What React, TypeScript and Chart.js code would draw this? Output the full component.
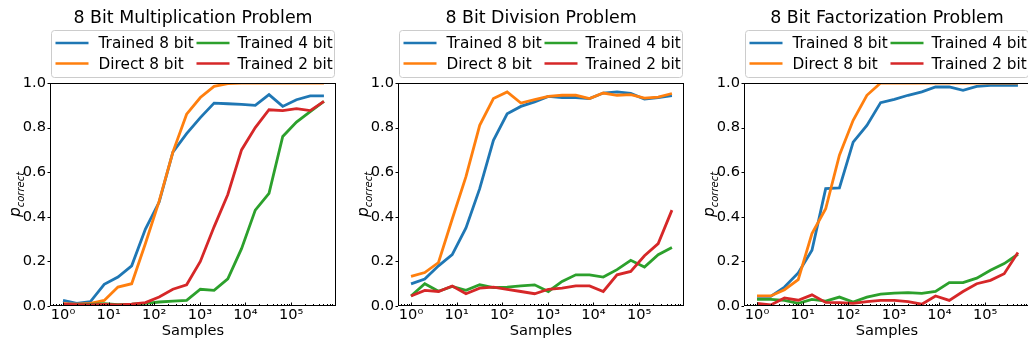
import React, { useEffect, useRef } from "react";
import { Chart, registerables } from "chart.js";

Chart.register(...registerables);

const FONT = '"DejaVu Sans", "Liberation Sans", sans-serif';

// ---- data ----
const samples = [1, 2, 4, 8, 16, 32, 64, 128, 256, 512, 1024, 2048, 4096, 8192, 16384, 32768, 65536, 131072, 262144, 524288];

const seriesLabels = ["Trained 8 bit", "Direct 8 bit", "Trained 4 bit", "Trained 2 bit"];
const seriesColors = ["#1f77b4", "#ff7f0e", "#2ca02c", "#d62728"];
const panelTitles = ["8 Bit Multiplication Problem", "8 Bit Division Problem", "8 Bit Factorization Problem"];

const xMajorTicks = [1, 10, 100, 1000, 10000, 100000];
const xTickLabels = ["10\u2070", "10\u00b9", "10\u00b2", "10\u00b3", "10\u2074", "10\u2075"];
const yTicks = [0, 0.2, 0.4, 0.6, 0.8, 1.0];
const yTickLabels = ["0.0", "0.2", "0.4", "0.6", "0.8", "1.0"];
const xAxisTitle = "Samples";
const yAxisBase = "p";
const yAxisSub = "correct";

const mulTrained8 = [0.025, 0.012, 0.02, 0.097, 0.13, 0.18, 0.345, 0.466, 0.69, 0.773, 0.845, 0.91, 0.907, 0.904, 0.9, 0.948, 0.895, 0.925, 0.942, 0.942];
const mulDirect8 = [0.01, 0.008, 0.012, 0.025, 0.085, 0.1, 0.28, 0.47, 0.69, 0.86, 0.935, 0.985, 0.997, 1, 1, 1, 1, 1, 1, 1];
const mulTrained4 = [0.004, 0.005, 0.007, 0.01, 0.006, 0.008, 0.012, 0.018, 0.022, 0.025, 0.075, 0.07, 0.122, 0.257, 0.43, 0.505, 0.76, 0.825, 0.872, 0.918];
const mulTrained2 = [0.008, 0.006, 0.005, 0.007, 0.005, 0.008, 0.015, 0.04, 0.075, 0.095, 0.2, 0.355, 0.5, 0.7, 0.8, 0.88, 0.876, 0.885, 0.876, 0.918];

const divTrained8 = [0.099, 0.121, 0.18, 0.23, 0.35, 0.526, 0.743, 0.862, 0.895, 0.915, 0.94, 0.935, 0.935, 0.93, 0.955, 0.96, 0.953, 0.928, 0.935, 0.943];
const divDirect8 = [0.133, 0.15, 0.195, 0.39, 0.58, 0.81, 0.93, 0.96, 0.91, 0.925, 0.94, 0.945, 0.945, 0.93, 0.955, 0.945, 0.948, 0.932, 0.937, 0.953];
const divTrained4 = [0.045, 0.1, 0.066, 0.088, 0.07, 0.095, 0.082, 0.085, 0.09, 0.095, 0.065, 0.11, 0.14, 0.14, 0.13, 0.163, 0.205, 0.175, 0.23, 0.262];
const divTrained2 = [0.045, 0.07, 0.065, 0.09, 0.055, 0.08, 0.085, 0.075, 0.065, 0.055, 0.075, 0.08, 0.09, 0.09, 0.065, 0.14, 0.155, 0.225, 0.28, 0.43];

const facTrained8 = [0.043, 0.043, 0.085, 0.148, 0.25, 0.526, 0.53, 0.735, 0.81, 0.912, 0.927, 0.945, 0.96, 0.982, 0.982, 0.967, 0.985, 0.99, 0.99, 0.99];
const facDirect8 = [0.045, 0.045, 0.073, 0.118, 0.325, 0.436, 0.676, 0.833, 0.945, 1, 1, 1, 1, 1, 1, 1, 1, 1, 1, 1];
const facTrained4 = [0.03, 0.03, 0.025, 0.012, 0.03, 0.022, 0.04, 0.018, 0.04, 0.053, 0.058, 0.06, 0.057, 0.065, 0.105, 0.105, 0.125, 0.16, 0.19, 0.232];
const facTrained2 = [0.012, 0.005, 0.036, 0.026, 0.05, 0.016, 0.015, 0.012, 0.02, 0.025, 0.025, 0.02, 0.008, 0.045, 0.025, 0.065, 0.1, 0.115, 0.145, 0.24];

const panelSeries = [
  [mulTrained8, mulDirect8, mulTrained4, mulTrained2],
  [divTrained8, divDirect8, divTrained4, divTrained2],
  [facTrained8, facDirect8, facTrained4, facTrained2],
];

// ---- layout (not data) ----
const H = 343;
const panelLayout = [
  { canvasLeft: 0, canvasWidth: 343, plotLeft: 50, plotRight: 336 },
  { canvasLeft: 343, canvasWidth: 343, plotLeft: 55, plotRight: 341 },
  { canvasLeft: 686, canvasWidth: 344, plotLeft: 58, plotRight: 344 },
];
const PLOT_TOP = 83;
const PLOT_BOTTOM = 306;
const X_MIN = 0.518;
const X_MAX = 964000;

const TICK_FONT = 14.6;
const LEGEND_FONT = 15.3;
const TITLE_FONT = 17.4;

function buildXTicks() {
  const out: { value: number; major: boolean }[] = [];
  for (let e = -1; e <= 6; e++) {
    for (let m = 1; m <= 9; m++) {
      const v = m * Math.pow(10, e);
      if (v >= X_MIN && v <= X_MAX) out.push({ value: v, major: m === 1 });
    }
  }
  return out;
}

function majorLabel(v: number) {
  for (let i = 0; i < xMajorTicks.length; i++) {
    if (Math.abs(v - xMajorTicks[i]) < 1e-6 * xMajorTicks[i]) return xTickLabels[i];
  }
  return "";
}

function makeDecor(panelIndex: number) {
  return {
    id: "decor" + panelIndex,
    afterDatasetsDraw(chart: any) {
      const { ctx, chartArea: ca, scales } = chart;
      const xs = scales.x;
      const ys = scales.y;
      ctx.save();
      ctx.strokeStyle = "#000";
      ctx.lineWidth = 1;
      ctx.beginPath();
      for (const t of xs.ticks) {
        const px = Math.round(xs.getPixelForValue(t.value)) + 0.5;
        const len = t.major ? 3.5 : 2;
        ctx.moveTo(px, ca.bottom);
        ctx.lineTo(px, ca.bottom - len);
      }
      for (const v of yTicks) {
        const py = Math.round(ys.getPixelForValue(v)) + 0.5;
        ctx.moveTo(ca.left, py);
        ctx.lineTo(ca.left - 2.5, py);
      }
      ctx.stroke();
      ctx.strokeRect(ca.left + 0.5, ca.top + 0.5, ca.right - ca.left - 1, ca.bottom - ca.top - 1);
      ctx.restore();
    },
    afterDraw(chart: any) {
      const { ctx, chartArea: ca } = chart;
      const cx = (ca.left + ca.right) / 2;
      ctx.save();
      // title
      ctx.fillStyle = "#000";
      ctx.font = `${TITLE_FONT}px ${FONT}`;
      ctx.textAlign = "center";
      ctx.textBaseline = "alphabetic";
      ctx.fillText(panelTitles[panelIndex], cx, 23);

      // legend
      const bw = 283;
      const bh = 47;
      const bx = Math.floor(cx - bw / 2) + 0.5;
      const by = 30.5;
      ctx.beginPath();
      if ((ctx as any).roundRect) (ctx as any).roundRect(bx, by, bw, bh, 3);
      else ctx.rect(bx, by, bw, bh);
      ctx.fillStyle = "rgba(255,255,255,0.8)";
      ctx.fill();
      ctx.strokeStyle = "#cccccc";
      ctx.lineWidth = 1;
      ctx.stroke();
      const cols = [[0, 1], [2, 3]];
      const colOff = [
        { h0: 4, h1: 37, tx: 47 },
        { h0: 145, h1: 178, tx: 186 },
      ];
      const lineY = [43, 63.5];
      const baseY = [48, 68.5];
      ctx.font = `${LEGEND_FONT}px ${FONT}`;
      ctx.textAlign = "left";
      for (let c = 0; c < 2; c++) {
        for (let r = 0; r < 2; r++) {
          const si = cols[c][r];
          ctx.strokeStyle = seriesColors[si];
          ctx.lineWidth = 2.7;
          ctx.beginPath();
          ctx.moveTo(bx + colOff[c].h0, lineY[r]);
          ctx.lineTo(bx + colOff[c].h1, lineY[r]);
          ctx.stroke();
          ctx.fillStyle = "#000";
          ctx.fillText(seriesLabels[si], bx + colOff[c].tx, baseY[r]);
        }
      }

      // y axis label: p_correct (rotated)
      ctx.translate(ca.left - 30, (ca.top + ca.bottom) / 2);
      ctx.rotate(-Math.PI / 2);
      const baseFont = `italic 15.5px ${FONT}`;
      const subFont = `italic 10px ${FONT}`;
      ctx.font = baseFont;
      const pw = ctx.measureText(yAxisBase).width;
      ctx.font = subFont;
      const sw = ctx.measureText(yAxisSub).width;
      const start = -(pw + sw) / 2;
      ctx.fillStyle = "#000";
      ctx.font = baseFont;
      ctx.fillText(yAxisBase, start, 0);
      ctx.font = subFont;
      ctx.fillText(yAxisSub, start + pw, 3.5);
      ctx.restore();
    },
  };
}

function Panel({ index }: { index: number }) {
  const ref = useRef<HTMLCanvasElement>(null);
  const lay = panelLayout[index];
  useEffect(() => {
    const series = panelSeries[index];
    const orders = [3, 2, 1, 0];
    const chart = new Chart(ref.current as HTMLCanvasElement, {
      type: "line",
      data: {
        datasets: series.map((vals, si) => ({
          label: seriesLabels[si],
          data: samples.map((s, i) => ({ x: s, y: vals[i] })),
          borderColor: seriesColors[si],
          backgroundColor: seriesColors[si],
          borderWidth: 2.8,
          pointRadius: 0,
          fill: false,
          tension: 0,
          clip: 0,
          order: orders[si],
        })),
      },
      options: {
        animation: false,
        responsive: false,
        maintainAspectRatio: false,
        devicePixelRatio: 1,
        events: [],
        layout: {
          padding: { top: PLOT_TOP, bottom: 0, left: 0, right: lay.canvasWidth - lay.plotRight },
        },
        plugins: {
          legend: { display: false },
          title: { display: false },
          tooltip: { enabled: false },
        },
        scales: {
          x: {
            type: "logarithmic",
            min: X_MIN,
            max: X_MAX,
            afterBuildTicks: (s: any) => {
              s.ticks = buildXTicks();
            },
            afterFit: (s: any) => {
              s.height = H - PLOT_BOTTOM;
            },
            ticks: {
              autoSkip: false,
              maxRotation: 0,
              minRotation: 0,
              padding: 0,
              color: "#000",
              font: { family: FONT, size: TICK_FONT },
              callback: (v: any) => majorLabel(Number(v)),
            },
            grid: { display: false, drawTicks: false, tickLength: 0 },
            border: { display: false },
            title: {
              display: true,
              text: xAxisTitle,
              color: "#000",
              font: { family: FONT, size: TICK_FONT },
              padding: { top: 0, bottom: 3 },
            },
          },
          y: {
            type: "linear",
            min: 0,
            max: 1,
            afterBuildTicks: (s: any) => {
              s.ticks = yTicks.map((v) => ({ value: v }));
            },
            afterFit: (s: any) => {
              s.width = lay.plotLeft;
            },
            ticks: {
              padding: 4,
              color: "#000",
              font: { family: FONT, size: TICK_FONT },
              callback: (v: any) => {
                const i = yTicks.findIndex((t) => Math.abs(t - Number(v)) < 1e-9);
                return i >= 0 ? yTickLabels[i] : "";
              },
            },
            grid: { display: false, drawTicks: false, tickLength: 0 },
            border: { display: false },
          },
        },
      },
      plugins: [makeDecor(index)],
    } as any);
    return () => chart.destroy();
  }, [index]);
  return (
    <canvas
      ref={ref}
      width={lay.canvasWidth}
      height={H}
      style={{ position: "absolute", left: lay.canvasLeft, top: 0, width: lay.canvasWidth, height: H }}
    />
  );
}

export default function App() {
  return (
    <div
      style={{
        position: "fixed",
        left: 0,
        top: 0,
        width: 1028,
        height: H,
        overflow: "hidden",
        background: "#fff",
      }}
    >
      {panelTitles.map((_, i) => (
        <Panel key={i} index={i} />
      ))}
    </div>
  );
}
